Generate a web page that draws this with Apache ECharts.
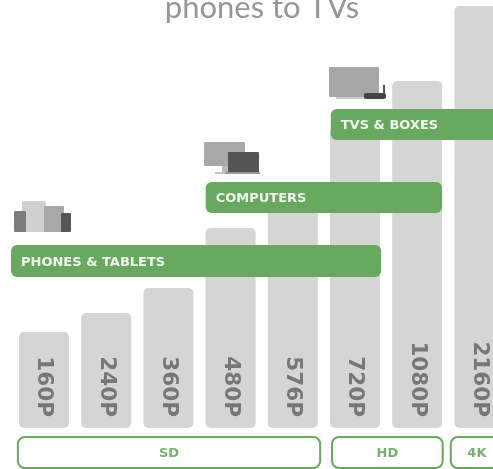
<!DOCTYPE html>
<html>
<head>
<meta charset="utf-8">
<style>
html,body{margin:0;padding:0;background:#fff;overflow:hidden}
#main{width:493px;height:469px}
</style>
<script src="https://cdn.jsdelivr.net/npm/echarts@6/dist/echarts.min.js"></script>
</head>
<body>
<div id="main"></div>
<script>
// resolutions and relative bar heights
var categories=['160P','240P','360P','480P','576P','720P','1080P','2160P'];
var barValues=[96,115,140,200,228,300,347,422];

// green device bands, x in category slots, y in bar units
var bandNames=['PHONES & TABLETS','COMPUTERS','TVS & BOXES'];
var bandFrom=[-0.53,2.60,4.61];
var bandTo=[5.42,6.40,8.00];
var bandLow=[151,215,288];
var bandHigh=[183,246,319];

// outlined groups under the bars
var groupNames=['SD','HD','4K'];
var groupFrom=[-0.42,4.63,6.54];
var groupTo=[4.44,6.41,7.38];
var groupLow=-40;
var groupHigh=-9;

var green='#66a95f';

function bandItem(params,api){
	var i=params.dataIndex;
	var a=api.coord([bandFrom[i],bandHigh[i]]);
	var b=api.coord([bandTo[i],bandLow[i]]);
	return {
		type:'group',
		children:[
			{type:'rect',shape:{x:a[0],y:a[1],width:b[0]-a[0],height:b[1]-a[1],r:6},style:{fill:green}},
			{type:'text',x:a[0]+10,y:(a[1]+b[1])/2+1.5,style:{
				text:bandNames[i],fill:'#f2f7f0',font:'bold 13px "DejaVu Sans"',
				verticalAlign:'middle',align:'left'
			}}
		]
	};
}

function groupItem(params,api){
	var i=params.dataIndex;
	var a=api.coord([groupFrom[i],groupHigh]);
	var b=api.coord([groupTo[i],groupLow]);
	return {
		type:'group',
		children:[
			{type:'rect',shape:{x:a[0],y:a[1],width:b[0]-a[0],height:b[1]-a[1],r:7},style:{fill:'#fff',stroke:green,lineWidth:2}},
			{type:'text',x:(a[0]+b[0])/2,y:(a[1]+b[1])/2+1.5,style:{
				text:groupNames[i],fill:'#77b071',font:'bold 13px "DejaVu Sans"',
				verticalAlign:'middle',align:'center'
			}}
		]
	};
}

var myChart=echarts.init(document.getElementById('main'));
myChart.setOption({
	animation:false,
	backgroundColor:'#fff',
	title:{
		text:'phones to TVs',left:257,top:-13,textAlign:'center',
		textStyle:{color:'#969696',fontSize:31,fontWeight:400,fontFamily:'Lato'}
	},
	grid:{left:12.9,width:497.6,top:0,height:469,outerBoundsMode:'none'},
	xAxis:[
		{type:'category',data:categories,show:false},
		{type:'value',min:-0.5,max:7.5,show:false}
	],
	yAxis:{type:'value',min:-41,max:428,show:false},
	series:[
		{
			type:'bar',
			data:barValues,
			barWidth:50,
			itemStyle:{color:'#d5d5d5',borderRadius:5},
			label:{
				show:true,
				position:'insideBottom',
				distance:10,
				rotate:-90,
				align:'right',
				verticalAlign:'middle',
				offset:[-1,0],
				formatter:function(p){return p.name},
				color:'#777',
				fontFamily:'DejaVu Sans',
				fontWeight:'bold',
				fontSize:21.5
			},
			z:2
		},
		{
			type:'custom',
			xAxisIndex:1,
			renderItem:bandItem,
			data:bandNames.map(function(n,i){return [bandFrom[i],bandHigh[i]]}),
			clip:false,
			z:3
		},
		{
			type:'custom',
			xAxisIndex:1,
			renderItem:groupItem,
			data:groupNames.map(function(n,i){return [groupFrom[i],groupHigh]}),
			clip:false,
			z:3
		}
	],
	graphic:[
		// phones & tablets icon
		{type:'rect',shape:{x:22,y:201,width:24,height:31,r:2},style:{fill:'#cfcfcf'}},
		{type:'rect',shape:{x:14,y:211,width:12,height:21,r:1},style:{fill:'#7b7b7b'}},
		{type:'rect',shape:{x:44,y:206,width:20,height:26,r:1},style:{fill:'#a8a8a8'}},
		{type:'rect',shape:{x:61,y:213,width:10,height:19,r:1},style:{fill:'#555'}},
		// computers icon
		{type:'rect',shape:{x:204,y:142,width:41,height:24,r:1},style:{fill:'#a8a8a8'}},
		{type:'rect',shape:{x:215,y:172,width:14,height:2},style:{fill:'#c4c4c4'}},
		{type:'rect',shape:{x:222,y:166,width:6,height:7},style:{fill:'#bbb'}},
		{type:'rect',shape:{x:228,y:152,width:31,height:21,r:1},style:{fill:'#555'}},
		{type:'rect',shape:{x:225,y:172,width:35,height:2},style:{fill:'#999'}},
		// tv & box icon
		{type:'rect',shape:{x:329,y:67,width:50,height:30,r:1},style:{fill:'#a6a6a6'}},
		{type:'rect',shape:{x:336,y:97,width:30,height:2},style:{fill:'#ccc'}},
		{type:'rect',shape:{x:364,y:93,width:22,height:6,r:2},style:{fill:'#444'}},
		{type:'rect',shape:{x:383,y:85,width:2,height:9},style:{fill:'#555'}}
	]
});
</script>
</body>
</html>
